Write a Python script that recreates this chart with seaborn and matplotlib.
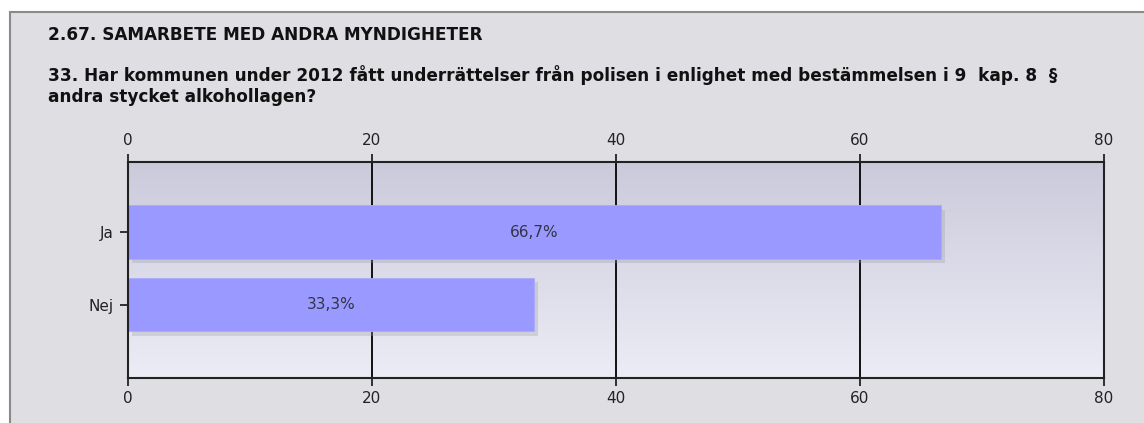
import numpy as np
import pandas as pd
import matplotlib
matplotlib.use("Agg")
import matplotlib.pyplot as plt
import matplotlib.patheffects as pe
from matplotlib.patches import Rectangle
from matplotlib.colors import LinearSegmentedColormap
import seaborn as sns

# ---- data ----
categories = ["Ja", "Nej"]
values = [66.7, 33.3]
value_labels = ["66,7%", "33,3%"]
x_ticks = [0, 20, 40, 60, 80]
section_title = "2.67. SAMARBETE MED ANDRA MYNDIGHETER"
question = ("33. Har kommunen under 2012 fått underrättelser från polisen i enlighet med bestämmelsen i 9  kap. 8  §\n"
            "andra stycket alkohollagen?")

sns.set_theme(style="white")
plt.rcParams['font.family'] = ['DejaVu Sans']

W, H = 1144, 423
fig = plt.figure(figsize=(W / 100, H / 100), dpi=100, facecolor="white")

# outer panel
panel = Rectangle((9.5 / W, -0.01), 1.0, (H - 12.5) / H + 0.01, transform=fig.transFigure,
                  facecolor="#dfdee3", edgecolor="#8a8a8a", linewidth=1.5, zorder=-5)
fig.patches.append(panel)

fig.text(48 / W, 1 - 35 / H, section_title, fontsize=12.2, fontweight="bold",
         color="#111111", va="center", ha="left", zorder=2)
fig.text(48 / W, 1 - 85.5 / H, question, fontsize=12.2, fontweight="bold",
         color="#111111", va="center", ha="left", linespacing=1.22, zorder=2)

left, right = 127.7 / W, 1103.5 / W
top, bottom = 1 - 162.3 / H, 1 - 377.5 / H
ax = fig.add_axes([left, bottom, right - left, top - bottom], zorder=1)

df = pd.DataFrame({"cat": categories, "val": values})
sns.barplot(data=df, y="cat", x="val", orient="h", color="#9999ff", saturation=1,
            width=0.74, ax=ax, zorder=3)

for p in ax.patches:
    p.set_edgecolor("#aaaaff")
    p.set_linewidth(0.6)
    p.set_path_effects([pe.SimplePatchShadow(offset=(3, -3), shadow_rgbFace="#9a9aa6", alpha=0.3),
                        pe.Normal()])

ymax, ymin = 2.007, -0.966
# gradient background
grad = np.linspace(0, 1, 256).reshape(-1, 1)
cmap = LinearSegmentedColormap.from_list("bg", ["#cacadb", "#ececf6"])
ax.imshow(grad, aspect="auto", cmap=cmap, extent=[0, 80, ymax, ymin],
          origin="upper", zorder=0)
ax.set_xlim(0, 80)
ax.set_ylim(ymax, ymin)

for xv in x_ticks[1:-1]:
    ax.axvline(xv, color="#111111", linewidth=1.4, zorder=1)

for i, (v, lab) in enumerate(zip(values, value_labels)):
    ax.text(v / 2, i, lab, ha="center", va="center", fontsize=11, color="#333344", zorder=5)

ax.set_xticks(x_ticks)
ax.set_xticklabels([str(t) for t in x_ticks])
ax.tick_params(axis="x", which="both", top=True, bottom=True, labeltop=True, labelbottom=True,
               direction="out", length=6, width=1.3, color="#222222", labelsize=11,
               labelcolor="#222222", pad=4)
ax.tick_params(axis="y", left=True, direction="out", length=6, width=1.3, color="#222222",
               labelsize=11, labelcolor="#222222", pad=4)
ax.set_xlabel("")
ax.set_ylabel("")
for s in ax.spines.values():
    s.set_visible(True)
    s.set_color("#222222")
    s.set_linewidth(1.5)
    s.set_zorder(6)

fig.savefig("out.png", dpi=100, facecolor="white")
